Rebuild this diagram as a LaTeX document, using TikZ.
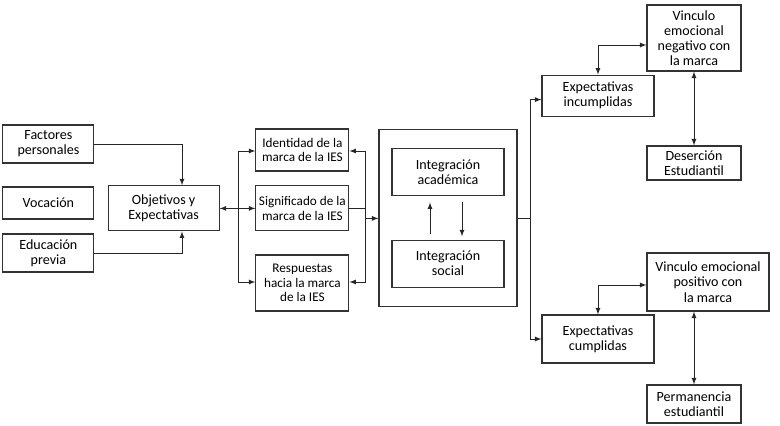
\documentclass[tikz,border=0pt]{standalone}
\usepackage{fontspec}
\setmainfont{Carlito}
\usepackage{tikz}

\begin{document}
\begin{tikzpicture}[scale=1,auto=center,>=latex,
	bloque/.style={draw=black!80,line width=0.8pt,align=center,inner sep=1pt,font=\fontsize{10}{10.8}\selectfont},
	medio/.style={bloque,font=\fontsize{9.4}{10.4}\selectfont},
	linea/.style={draw=black!85,line width=0.6pt}]
			\useasboundingbox (0,0) rectangle (19.5,10.65);
			%\draw [help lines] (0,0) grid (19.5,10.65);
			\node[bloque,minimum width=2.275cm,minimum height=0.95cm] (fac) at (1.21,7.05) {Factores\\personales};
			\node[bloque,minimum width=2.275cm,minimum height=0.8cm] (voc) at (1.21,5.575) {Vocación};
			\node[bloque,minimum width=2.275cm,minimum height=0.95cm] (edu) at (1.21,4.325) {Educación\\previa};
			\node[bloque,minimum width=2.775cm,minimum height=1.125cm] (obj) at (4.09,5.44) {Objetivos y\\Expectativas};
			\node[medio,minimum width=2.325cm,minimum height=1.05cm] (ide) at (7.56,6.9) {Identidad de la\\marca de la IES};
			\node[medio,minimum width=2.325cm,minimum height=1.125cm] (sig) at (7.56,5.44) {Significado de la\\marca de la IES};
			\node[medio,minimum width=2.325cm,minimum height=1.4cm] (res) at (7.56,3.575) {Respuestas\\hacia la marca\\de la IES};
			\node[bloque,minimum width=3.45cm,minimum height=4.425cm] (big) at (11.2,5.19) {};
			\node[bloque,minimum width=2.8cm,minimum height=1.175cm] (aca) at (11.2,6.34) {Integración\\académica};
			\node[bloque,minimum width=2.8cm,minimum height=1.175cm] (soc) at (11.2,4.06) {Integración\\social};
			\node[bloque,minimum width=2.8cm,minimum height=1.025cm] (inc) at (14.95,8.26) {Expectativas\\incumplidas};
			\node[bloque,minimum width=2.35cm,minimum height=1.65cm] (neg) at (17.35,9.7) {Vinculo\\emocional\\negativo con\\la marca};
			\node[bloque,minimum width=2.35cm,minimum height=0.85cm] (des) at (17.35,6.575) {Deserción\\Estudiantil};
			\node[bloque,minimum width=2.8cm,minimum height=1.2cm] (cum) at (14.95,2.175) {Expectativas\\cumplidas};
			\node[bloque,minimum width=3.05cm,minimum height=1.45cm] (pos) at (17.7,3.6) {Vinculo emocional\\positivo con\\la marca};
			\node[bloque,minimum width=2.35cm,minimum height=0.95cm] (per) at (17.35,0.55) {Permanencia\\estudiantil};
			\coordinate (busL) at (5.95,5.44);
			\coordinate (busR) at (9.125,5.44);
			\coordinate (split) at (13.25,5.19);
			% entradas
			\draw[linea,->] (fac.east) -| ([xshift=0.46cm]obj.north);
			\draw[linea,->] (edu.east) -| ([xshift=0.46cm]obj.south);
			\draw[linea,<->] (obj.east) -- (sig.west);
			\draw[linea,->] (busL) |- ([yshift=-0.025cm]ide.west);
			\draw[linea,->] (busL) |- ([yshift=0.025cm]res.west);
			\draw[linea] (sig.east) -- (busR);
			\draw[linea,->] (busR) |- ([yshift=-0.025cm]ide.east);
			\draw[linea,->] (busR) |- ([yshift=0.025cm]res.east);
			\draw[linea,->] (busR |- big.west) -- (big.west);
			% integracion
			\draw[linea,->,shorten <=0.15cm,shorten >=0.15cm] ([xshift=-0.45cm]soc.north) -- ([xshift=-0.45cm]aca.south);
			\draw[linea,->,shorten <=0.15cm,shorten >=0.08cm] ([xshift=0.35cm]aca.south) -- ([xshift=0.35cm]soc.north);
			% salidas
			\draw[linea] (big.east) -- (split);
			\draw[linea,->] (split) |- ([yshift=-0.1cm]inc.west);
			\draw[linea,->] (split) |- (cum.west);
			\draw[linea,<->] (inc.north) |- ([yshift=-0.175cm]neg.west);
			\draw[linea,<->] (neg) -- (des);
			\draw[linea,<->] (cum.north) |- ([yshift=-0.075cm]pos.west);
			\draw[linea,<->] (per.north) -- (per.north |- pos.south);
		\end{tikzpicture}
\end{document}
